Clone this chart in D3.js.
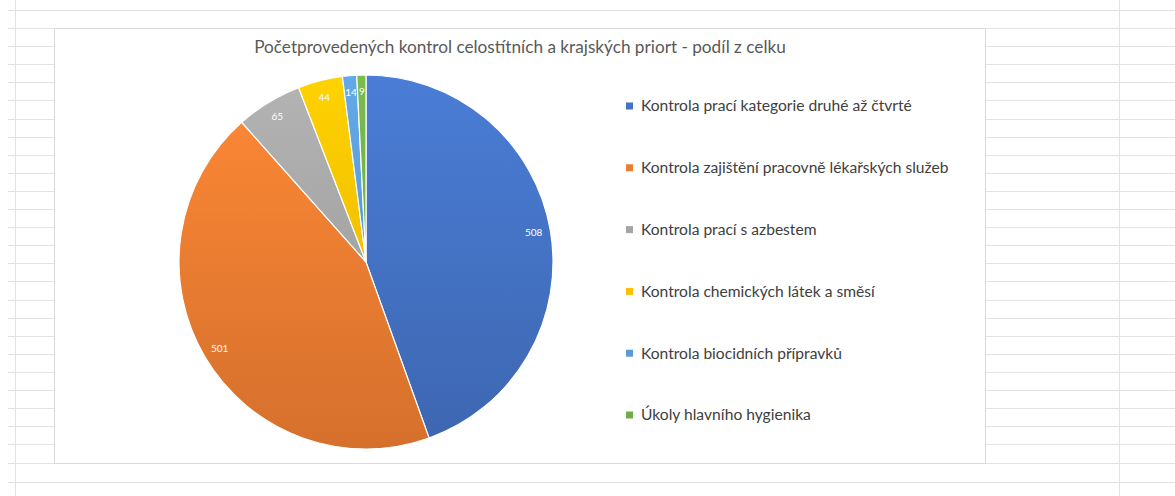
<!DOCTYPE html>
<html><head><meta charset="utf-8">
<script src="https://cdn.jsdelivr.net/npm/d3@7"></script>
<style>html,body{margin:0;padding:0;background:#fff;overflow:hidden}</style>
</head><body>
<svg id="c" width="1175" height="496"></svg>
<script>
const title = "Početprovedených kontrol celostítních a krajských priort - podíl z celku";
const categories = [
  "Kontrola prací kategorie druhé až čtvrté",
  "Kontrola zajištění pracovně lékařských služeb",
  "Kontrola prací s azbestem",
  "Kontrola chemických látek a směsí",
  "Kontrola biocidních přípravků",
  "Úkoly hlavního hygienika"
];
const values = [508, 501, 65, 44, 14, 9];
const colors = ["#4472C4", "#ED7D31", "#A5A5A5", "#FFC000", "#5B9BD5", "#70AD47"];

const svg = d3.select("#c");
const W = 1175, H = 496;
const gridColor = "#e2e2e2";
const g0 = svg.append("g");
// spreadsheet grid background
g0.append("line").attr("x1",8).attr("x2",W).attr("y1",10.5).attr("y2",10.5).attr("stroke",gridColor);
g0.append("line").attr("x1",8).attr("x2",W).attr("y1",28.5).attr("y2",28.5).attr("stroke",gridColor);
g0.append("line").attr("x1",8).attr("x2",W).attr("y1",482.5).attr("y2",482.5).attr("stroke",gridColor);
g0.append("line").attr("x1",8).attr("x2",W).attr("y1",463.5).attr("y2",463.5).attr("stroke",gridColor);
for (let k = 1; k < 24; k++) {
  const y = Math.round(28 + k * 18.1) + 0.5;
  g0.append("line").attr("x1",8).attr("x2",54).attr("y1",y).attr("y2",y).attr("stroke",gridColor);
  g0.append("line").attr("x1",986).attr("x2",W).attr("y1",y).attr("y2",y).attr("stroke",gridColor);
}
g0.append("line").attr("x1",15.5).attr("x2",15.5).attr("y1",0).attr("y2",H).attr("stroke",gridColor);
g0.append("line").attr("x1",1119.5).attr("x2",1119.5).attr("y1",0).attr("y2",H).attr("stroke",gridColor);

// chart area
svg.append("rect").attr("x",54.5).attr("y",28.5).attr("width",931).attr("height",435)
  .attr("fill","#fff").attr("stroke","#d9d9d9");

svg.append("text").attr("x",520).attr("y",53).attr("text-anchor","middle")
  .attr("font-family","Lato, 'Open Sans', sans-serif").attr("font-size",17.2)
  .attr("fill","#595959").text(title);

const cx = 366, cy = 262, R = 187;
const defs = svg.append("defs");
colors.forEach((c, i) => {
  const gr = defs.append("linearGradient").attr("id","g"+i)
    .attr("gradientUnits","userSpaceOnUse").attr("x1",0).attr("y1",-R).attr("x2",0).attr("y2",R);
  gr.append("stop").attr("offset","0%").attr("stop-color",d3.color(c).brighter(0.25));
  gr.append("stop").attr("offset","100%").attr("stop-color",d3.color(c).darker(0.3));
});

const pie = d3.pie().sort(null).value(d => d)(values);
const arc = d3.arc().innerRadius(0).outerRadius(R);
const labelArc = d3.arc().innerRadius(R * 0.91).outerRadius(R * 0.91);
const pg = svg.append("g").attr("transform",`translate(${cx},${cy})`);
pg.selectAll("path").data(pie).join("path")
  .attr("d", arc).attr("fill", (d,i) => `url(#g${i})`)
  .attr("stroke","#fff").attr("stroke-width",1.2);
pg.selectAll("text").data(pie).join("text")
  .attr("transform", d => `translate(${labelArc.centroid(d)})`)
  .attr("text-anchor","middle").attr("dy","0.35em")
  .attr("font-family","Lato, 'Open Sans', sans-serif").attr("font-size",10)
  .attr("fill","#fff").text(d => d.data);

// legend
const ly = d3.scalePoint().domain(categories).range([106, 415]);
const lg = svg.append("g");
categories.forEach((c, i) => {
  lg.append("rect").attr("x",626).attr("y",ly(c)-3.5).attr("width",7).attr("height",7).attr("fill",colors[i]);
  lg.append("text").attr("x",641).attr("y",ly(c)).attr("dy","0.35em")
    .attr("font-family","Lato, 'Open Sans', sans-serif").attr("font-size",15.6)
    .attr("fill","#404040").text(c);
});
</script>
</body></html>
